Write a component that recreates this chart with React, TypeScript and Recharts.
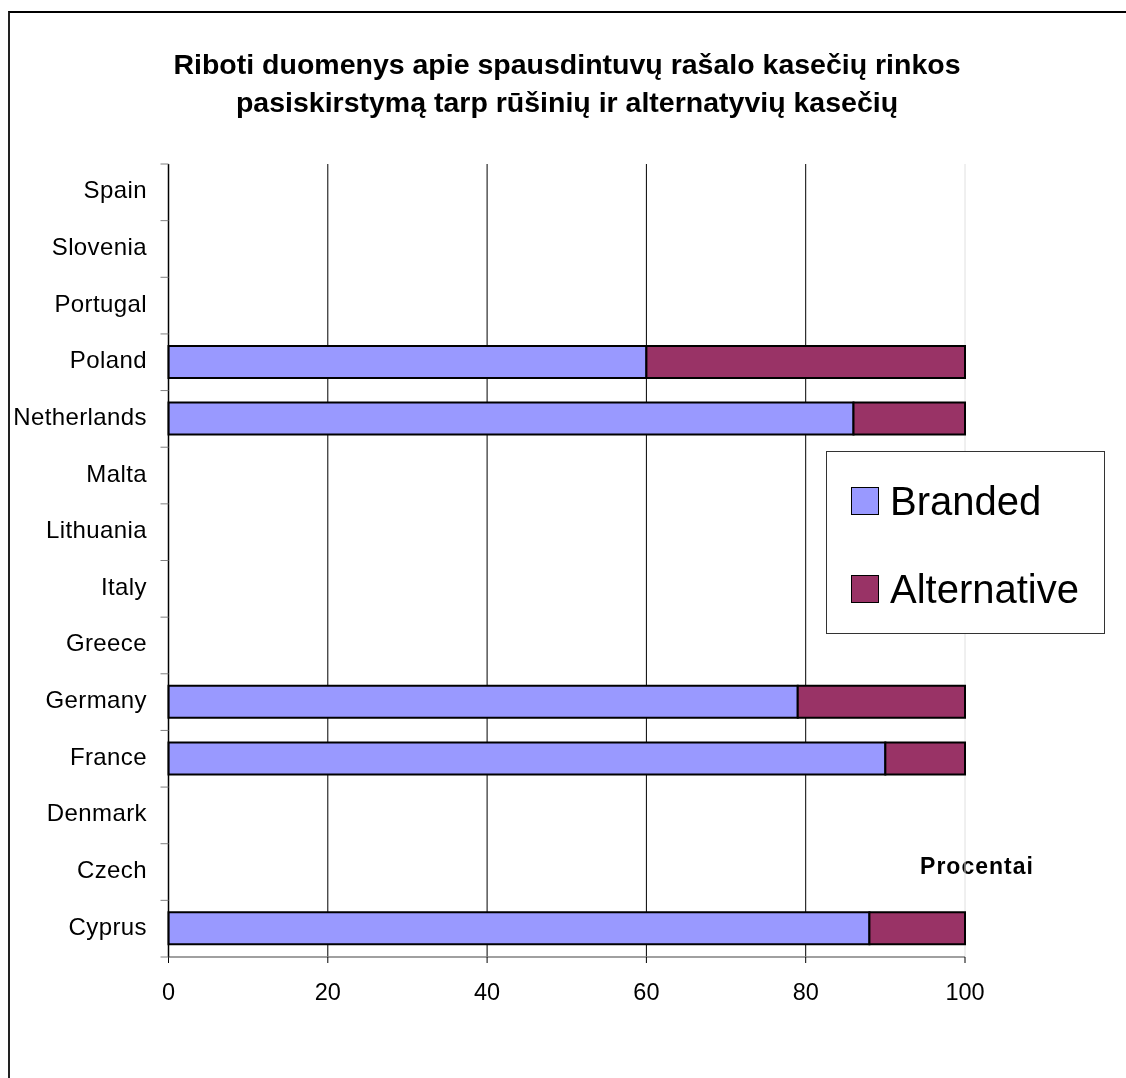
import React from 'react';
import { BarChart, Bar, XAxis, YAxis, CartesianGrid, Legend } from 'recharts';

const categories = ['Spain', 'Slovenia', 'Portugal', 'Poland', 'Netherlands', 'Malta', 'Lithuania', 'Italy', 'Greece', 'Germany', 'France', 'Denmark', 'Czech', 'Cyprus'];
const brandedValues = [null, null, null, 60, 86, null, null, null, null, 79, 90, null, null, 88];
const alternativeValues = [null, null, null, 40, 14, null, null, null, null, 21, 10, null, null, 12];
const seriesNames = ['Branded', 'Alternative'];
const seriesColors = ['#9999FF', '#993366'];
const xTicks = [0, 20, 40, 60, 80, 100];
const gridValues = [20, 40, 60, 80];
const edgeValues = [100];
const titleLines = ['Riboti duomenys apie spausdintuvų rašalo kasečių rinkos', 'pasiskirstymą tarp rūšinių ir alternatyvių kasečių'];
const axisTitle = 'Procentai';

const data = categories.map((c, i) => ({
  country: c,
  Branded: brandedValues[i],
  Alternative: alternativeValues[i],
}));

const FONT = '"Liberation Sans", Arial, sans-serif';
const TICK_SIZE = 8;
const TICK_MARGIN = 13.5;

const YTick = (props: any) => {
  const { x, y, payload, height, visibleTicksCount, index } = props;
  const count = visibleTicksCount || categories.length;
  const band = (height || 793) / count;
  const axisX = x + TICK_SIZE + TICK_MARGIN;
  return (
    <g>
      <line x1={axisX - TICK_SIZE} x2={axisX} y1={y - band / 2} y2={y - band / 2} stroke="#808080" strokeWidth={1} />
      {index === count - 1 && (
        <line x1={axisX - TICK_SIZE} x2={axisX} y1={y + band / 2} y2={y + band / 2} stroke="#808080" strokeWidth={1} />
      )}
      <text x={x} y={y} dy="0.25em" textAnchor="end" fontSize={24} letterSpacing={0.4} fontFamily={FONT} fill="#000">
        {payload.value}
      </text>
    </g>
  );
};

const gridGen = (values: number[]) => (props: any) => {
  const { xAxis, offset } = props;
  if (xAxis && typeof xAxis.scale === 'function') {
    return values.map((v) => xAxis.scale(v));
  }
  return values.map((v) => offset.left + (v / 100) * offset.width);
};

const renderLegend = (props: any) => {
  const payload = [...(props.payload || [])].sort(
    (a: any, b: any) => seriesNames.indexOf(a.value) - seriesNames.indexOf(b.value)
  );
  return (
    <div
      style={{
        width: 279,
        height: 183,
        boxSizing: 'border-box',
        border: '1px solid #333',
        background: '#fff',
        position: 'relative',
        fontFamily: FONT,
      }}
    >
      {payload.map((p: any, i: number) => (
        <div
          key={p.value}
          style={{
            position: 'absolute',
            left: 24,
            top: 49 + i * 88 - 24,
            height: 48,
            display: 'flex',
            alignItems: 'center',
          }}
        >
          <div style={{ width: 28, height: 28, boxSizing: 'border-box', background: p.color, border: '1.5px solid #000' }} />
          <span style={{ fontSize: 40, marginLeft: 11, color: '#000', lineHeight: '48px' }}>{p.value}</span>
        </div>
      ))}
    </div>
  );
};

export default function App() {
  return (
    <div style={{ position: 'relative', width: 1110, height: 1062, fontFamily: FONT }}>
      <div
        style={{
          position: 'fixed',
          left: 8,
          top: 11,
          right: -20,
          bottom: -20,
          borderTop: '2px solid #000',
          borderLeft: '2px solid #222',
          pointerEvents: 'none',
        }}
      />
      <div
        style={{
          position: 'absolute',
          left: 0,
          width: 1118,
          top: 37,
          textAlign: 'center',
          fontSize: 28.5,
          fontWeight: 'bold',
          lineHeight: '38px',
          color: '#000',
        }}
      >
        {titleLines.map((t) => (
          <div key={t}>{t}</div>
        ))}
      </div>
      <div
        style={{
          position: 'absolute',
          left: 909,
          top: 843,
          width: 120,
          textAlign: 'center',
          fontSize: 23,
          fontWeight: 'bold',
          letterSpacing: 1,
          color: '#000',
          lineHeight: '30px',
        }}
      >
        {axisTitle}
      </div>
      <BarChart
        width={1110}
        height={1062}
        data={data}
        layout="vertical"
        margin={{ top: 156, right: 153, bottom: 73, left: 0.5 }}
        barSize={32}
        style={{ position: 'absolute', left: 0, top: 0 }}
      >
        <CartesianGrid horizontal={false} stroke="#000" strokeWidth={1} verticalCoordinatesGenerator={gridGen(gridValues)} />
        <CartesianGrid horizontal={false} stroke="#e0e0e0" strokeWidth={1} verticalCoordinatesGenerator={gridGen(edgeValues)} />
        <XAxis
          type="number"
          domain={[0, 100]}
          ticks={xTicks}
          interval={0}
          height={40}
          tickSize={6}
          tickMargin={20}
          axisLine={{ stroke: '#808080', strokeWidth: 1.5 }}
          tickLine={{ stroke: '#000' }}
          tick={{ fontSize: 23.5, fill: '#000', fontFamily: FONT }}
        />
        <YAxis
          type="category"
          dataKey="country"
          width={160}
          interval={0}
          tickSize={TICK_SIZE}
          tickMargin={TICK_MARGIN}
          tickLine={false}
          axisLine={{ stroke: '#000', strokeWidth: 1.5 }}
          tick={<YTick />}
        />
        <Legend
          layout="horizontal"
          verticalAlign="middle"
          align="center"
          wrapperStyle={{ left: 818, top: 443, width: 279, height: 183 }}
          content={renderLegend}
        />
        <Bar dataKey="Branded" name="Branded" stackId="a" fill={seriesColors[0]} stroke="#000" strokeWidth={2} isAnimationActive={false} />
        <Bar dataKey="Alternative" name="Alternative" stackId="a" fill={seriesColors[1]} stroke="#000" strokeWidth={2} isAnimationActive={false} />
      </BarChart>
    </div>
  );
}
